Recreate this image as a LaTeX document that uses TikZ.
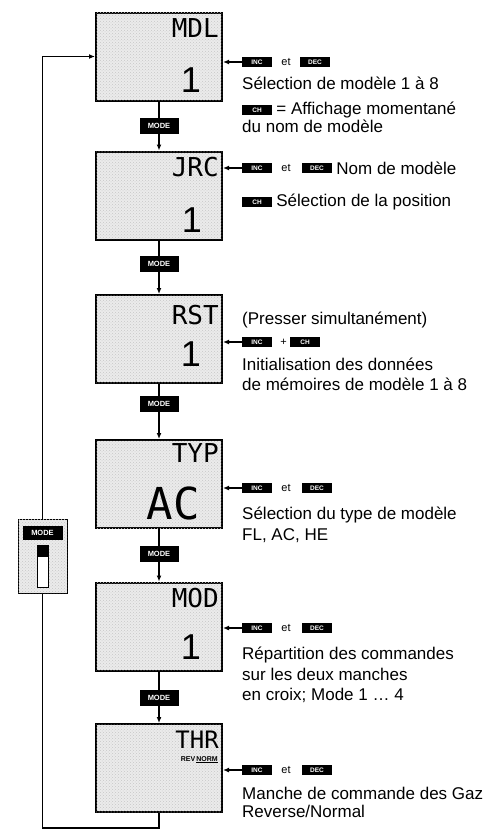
\documentclass[tikz,border=0pt]{standalone}
\usepackage{fontspec}
\setmainfont{Liberation Sans}
\newfontfamily\lcdfont{DejaVu Sans Mono}
\usetikzlibrary{positioning,arrows.meta,patterns}

\tikzset{
	screen/.style={draw, line width=2pt, fill=black!8, postaction={pattern=crosshatch dots, pattern color=black!22}, minimum width=126, minimum height=88, inner sep=0pt},
	lcdword/.style={font=\lcdfont\fontsize{26}{26}\selectfont, anchor=north east, inner sep=0pt},
	lcddigit/.style={font=\fontsize{36}{36}\selectfont, anchor=south east, inner sep=0pt},
	keycap/.style={fill=black, text=white, font=\fontsize{6.5}{6.5}\selectfont\bfseries, minimum width=30, minimum height=10, inner sep=0pt},
	modekey/.style={keycap, minimum width=39, minimum height=16, font=\fontsize{7.5}{7.5}\selectfont\bfseries},
	txt/.style={anchor=mid west, inner sep=0pt, font=\fontsize{17}{20}\selectfont},
	sepword/.style={inner sep=0pt, font=\fontsize{11}{11}\selectfont},
	wire/.style={line width=1.2pt},
	wirearrow/.style={wire, -{Latex[length=6pt,width=5pt]}},
}

\begin{document}
\begin{tikzpicture}[x=1pt, y=-1pt]
	\useasboundingbox (0,0) rectangle (498,830);

	% Anzeigen
	\node[screen] (mdl) at (159,56.5) {};
	\node[screen] (jrc) at (159,195.5) {};
	\node[screen] (rst) at (159,339) {};
	\node[screen] (typ) at (159,484) {};
	\node[screen] (mod) at (159,626.5) {};
	\node[screen] (thr) at (159,768) {};

	\node[lcdword] (mdlword) at (219,18) {MDL};
	\node[lcdword] (jrcword) at (219,157) {JRC};
	\node[lcdword] (rstword) at (219,305) {RST};
	\node[lcdword] (typword) at (219,443) {TYP};
	\node[lcdword] (modword) at (219,588) {MOD};
	\node[lcdword, font=\lcdfont\fontsize{24}{24}\selectfont] (thrword) at (219,731) {THR};

	\node[lcddigit] (mdlval) at (201,93) {1};
	\node[lcddigit] (jrcval) at (202,233) {1};
	\node[lcddigit] (rstval) at (201,367) {1};
	\node[lcddigit, font=\lcdfont\fontsize{44}{44}\selectfont] (typval) at (200,520) {AC};
	\node[lcddigit] (modval) at (201,660) {1};
	\node[anchor=north east, inner sep=0pt, font=\fontsize{7}{7}\selectfont\bfseries] (thrval) at (218,756) {REV\,\underline{NORM}};

	% MODE-Tasten zwischen den Anzeigen
	\node[modekey] (m1) at (159,126) {MODE};
	\node[modekey] (m2) at (159,264) {MODE};
	\node[modekey] (m3) at (159,404) {MODE};
	\node[modekey] (m4) at (159,554) {MODE};
	\node[modekey] (m5) at (159,698) {MODE};

	\foreach \a/\k/\b in {mdl/m1/jrc, jrc/m2/rst, rst/m3/typ, typ/m4/mod, mod/m5/thr} {
		\draw[wire] (\a) -- (\k);
		\draw[wirearrow] (\k) -- (\b);
	}

	% Schalter links und Ruecklauf
	\node[draw, line width=1pt, fill=black!8, postaction={pattern=crosshatch dots, pattern color=black!22}, minimum width=49, minimum height=74] (sw) at (42.5,556) {};
	\node[modekey, minimum width=40, minimum height=14] (swkey) at (42.5,533) {MODE};
	\draw[line width=1pt, fill=white] (37,545) rectangle (48,587);
	\fill (37,545) rectangle (48,557);

	\coordinate (loopend) at (159,828);
	\draw[wirearrow] (sw.north) |- (mdl.west);
	\draw[wire] (thr) -- (loopend) -| (sw);

	% Erlaeuterungen rechts
	\node[keycap] (inc1) at (257,62) {INC};
	\node[sepword, right=9pt of inc1] (et1) {et};
	\node[keycap] (dec1) at (315,62) {DEC};
	\node[txt] (t1a) at (242,87) {Sélection de modèle 1 à 8};
	\node[keycap] (ch1) at (257,110) {CH};
	\node[txt, right=4pt of ch1] (t1b) {= Affichage momentané};
	\node[txt] (t1c) at (242,130) {du nom de modèle};
	\draw[wirearrow] (inc1) -- (inc1 -| mdl.east);

	\node[keycap] (inc2) at (257,168) {INC};
	\node[sepword, right=9pt of inc2] (et2) {et};
	\node[keycap] (dec2) at (317,168) {DEC};
	\node[txt, right=4pt of dec2] (t2a) {Nom de modèle};
	\node[keycap] (ch2) at (257,202) {CH};
	\node[txt, right=4pt of ch2] (t2b) {Sélection de la position};
	\draw[wirearrow] (inc2) -- (inc2 -| jrc.east);

	\node[txt] (t3a) at (242,322) {(Presser simultanément)};
	\node[keycap] (inc3) at (257,342) {INC};
	\node[sepword, right=8pt of inc3] (plus3) {+};
	\node[keycap] (ch3) at (305,342) {CH};
	\node[txt] (t3b) at (242,368) {Initialisation des données};
	\node[txt] (t3c) at (242,388) {de mémoires de modèle 1 à 8};
	\draw[wirearrow] (inc3) -- (inc3 -| rst.east);

	\node[keycap] (inc4) at (257,488) {INC};
	\node[sepword, right=9pt of inc4] (et4) {et};
	\node[keycap] (dec4) at (317,488) {DEC};
	\node[txt] (t4a) at (242,517) {Sélection du type de modèle};
	\node[txt] (t4b) at (242,538) {FL, AC, HE};
	\draw[wirearrow] (inc4) -- (inc4 -| typ.east);

	\node[keycap] (inc5) at (257,628) {INC};
	\node[sepword, right=9pt of inc5] (et5) {et};
	\node[keycap] (dec5) at (317,628) {DEC};
	\node[txt] (t5a) at (242,657) {Répartition des commandes};
	\node[txt] (t5b) at (242,678) {sur les deux manches};
	\node[txt] (t5c) at (242,698) {en croix; Mode 1 \dots\ 4};
	\draw[wirearrow] (inc5) -- (inc5 -| mod.east);

	\node[keycap] (inc6) at (257,770) {INC};
	\node[sepword, right=9pt of inc6] (et6) {et};
	\node[keycap] (dec6) at (317,770) {DEC};
	\node[txt] (t6a) at (242,797) {Manche de commande des Gaz};
	\node[txt] (t6b) at (242,815) {Reverse/Normal};
	\draw[wirearrow] (inc6) -- (inc6 -| thr.east);
\end{tikzpicture}
\end{document}
